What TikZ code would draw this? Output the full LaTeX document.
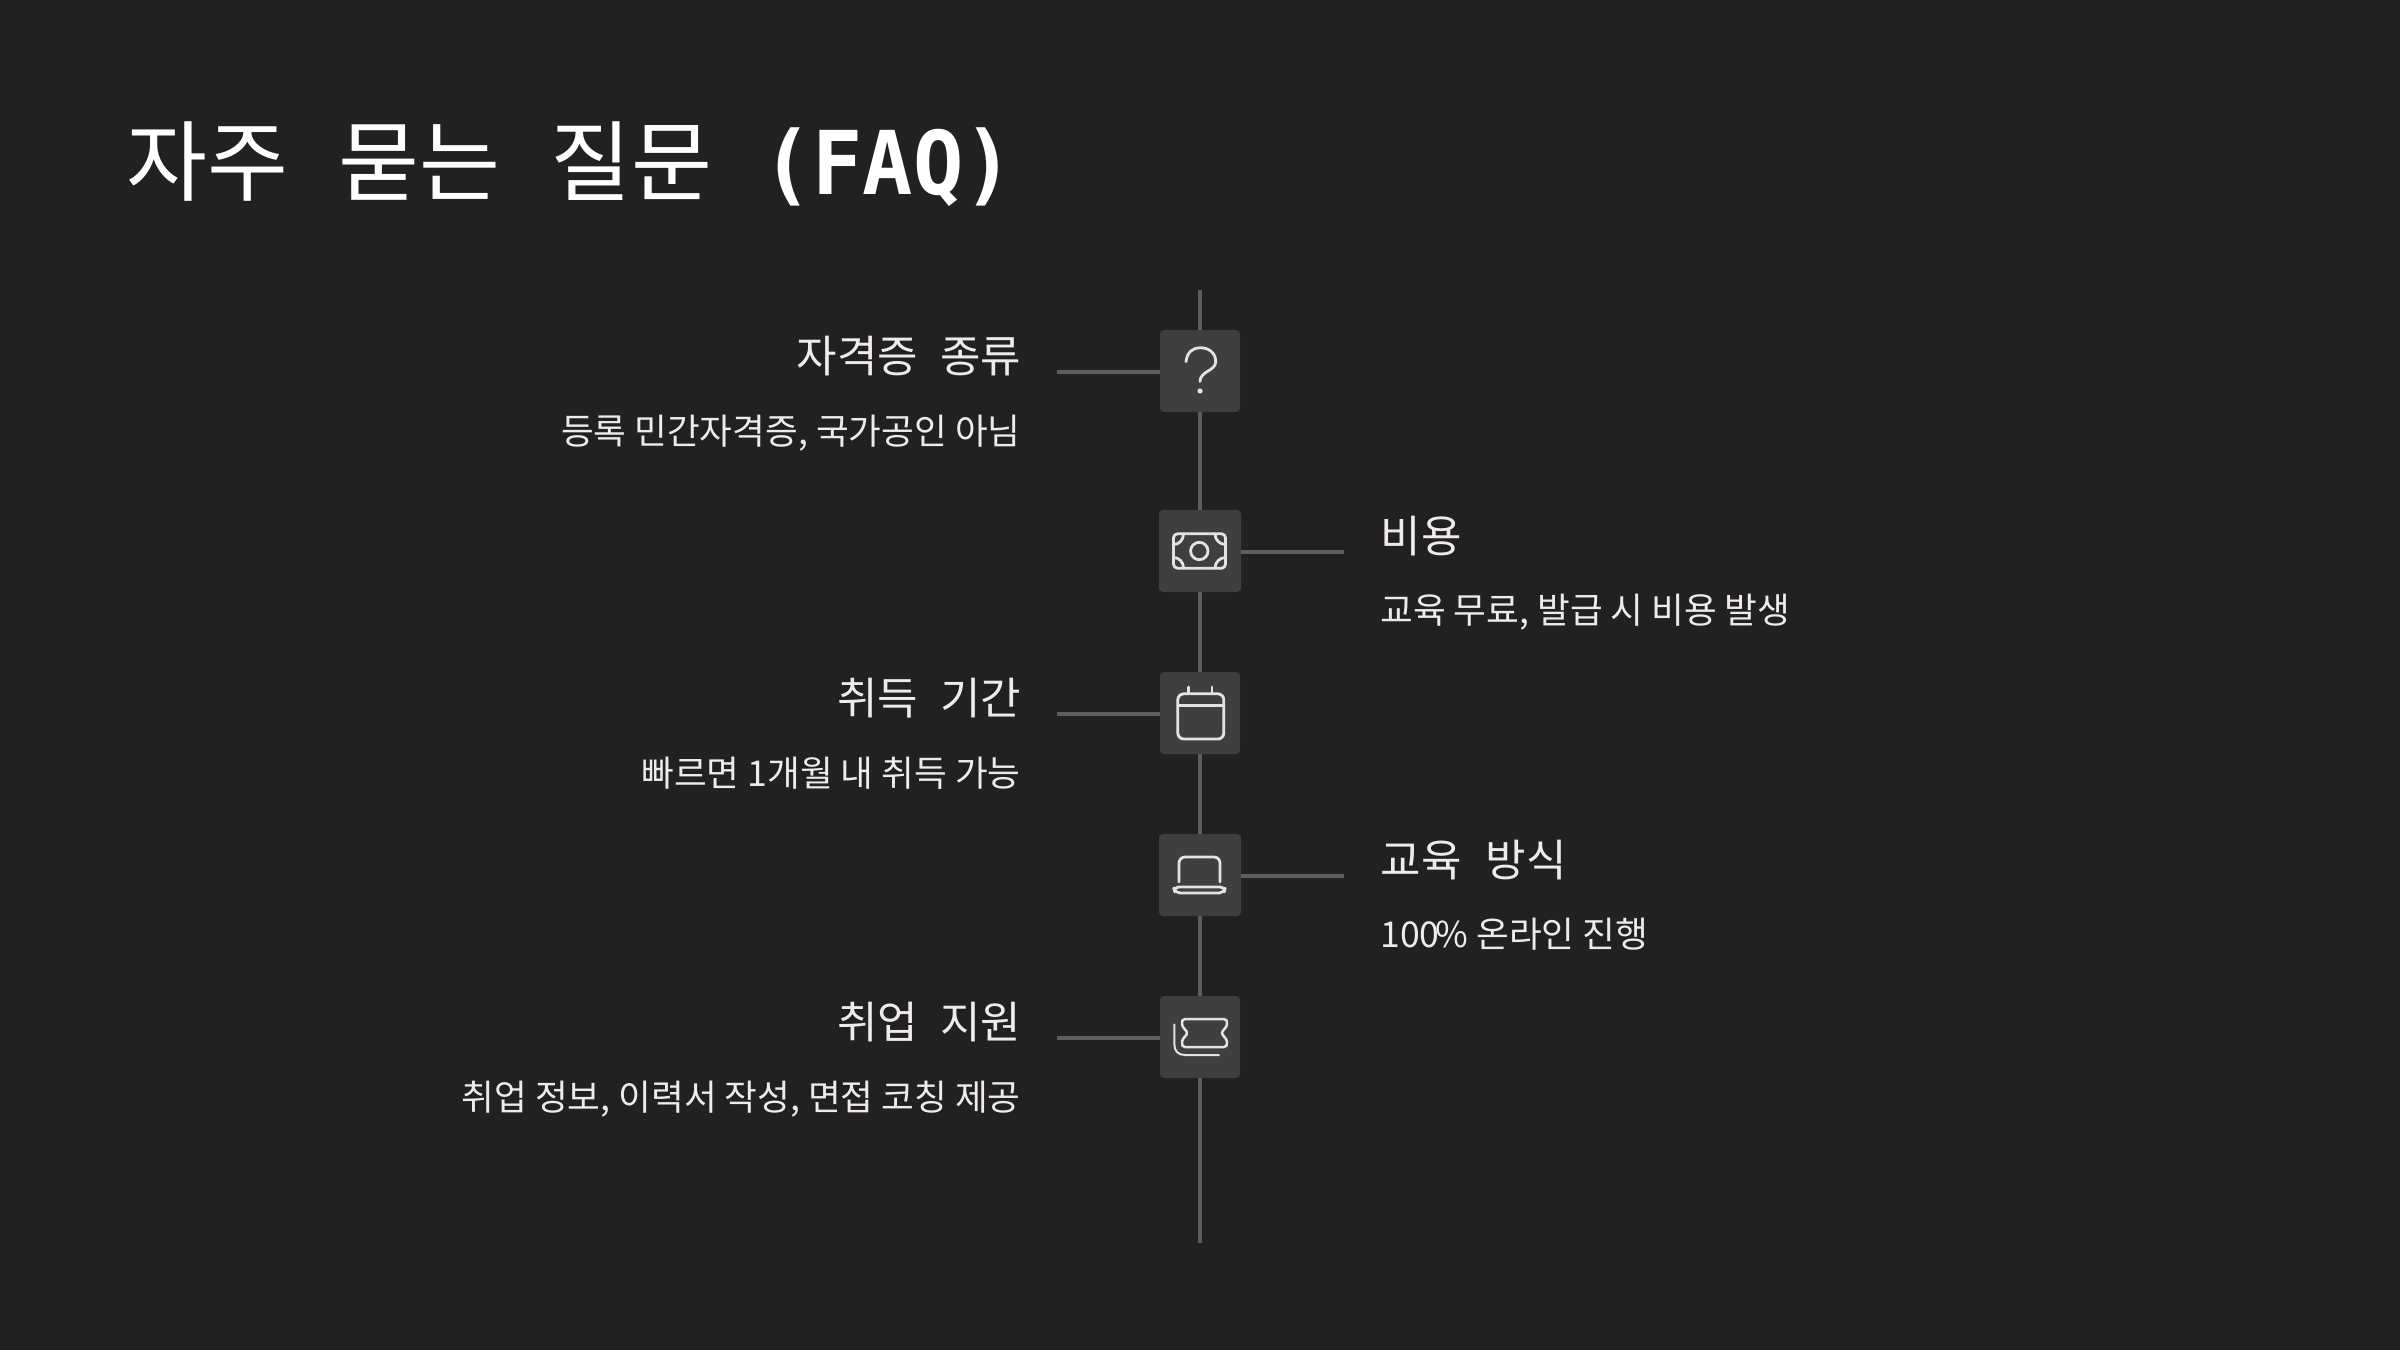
\documentclass[tikz,border=0pt]{standalone}
\usepackage{fontspec}
\setmainfont{Noto Sans CJK KR}
\newfontfamily\titlelatin[FakeStretch=0.95]{DejaVu Sans Mono}
\definecolor{bgc}{HTML}{212121}
\definecolor{boxc}{HTML}{3F3F3F}
\definecolor{linec}{HTML}{5E5E5E}
\definecolor{textc}{HTML}{EFEBEB}
\definecolor{iconc}{HTML}{E6E2E2}
\tikzset{
  boxn/.style={fill=boxc,rounded corners=2pt,minimum width=40pt,minimum height=41pt,inner sep=0pt,draw=none},
  boxw/.style={boxn,minimum width=41pt},
  tl/.style={draw=linec,line width=2pt},
  icon/.style={draw=iconc,line width=1.4pt,line cap=round,line join=round},
  headl/.style={anchor=base east,text=textc,font=\fontsize{22}{26}\selectfont,inner sep=0pt},
  subl/.style={anchor=base east,text=textc,font=\fontsize{17.8}{22}\selectfont,inner sep=0pt},
  headr/.style={anchor=base west,text=textc,font=\fontsize{22}{26}\selectfont,inner sep=0pt},
  subr/.style={anchor=base west,text=textc,font=\fontsize{17.8}{22}\selectfont,inner sep=0pt}
}
\begin{document}
\begin{tikzpicture}[x=0.5pt,y=-0.5pt]
\useasboundingbox (0,0) rectangle (2400,1350);
\fill[bgc] (0,0) rectangle (2400,1350);
\node[anchor=base west,text=white,inner sep=0pt,font=\fontsize{44}{52}\selectfont] (title) at (126,194) {자주\hspace{25pt}묻는\hspace{25pt}질문\hspace{25pt}{\titlelatin\bfseries (FAQ)}};
\coordinate (top) at (1200,290);
\coordinate (bot) at (1200,1243);
\draw[tl] (top) -- (bot);
\coordinate (c1) at (1057,371.5);
\coordinate (c2) at (1344,551.5);
\coordinate (c3) at (1057,713.5);
\coordinate (c4) at (1344,875.5);
\coordinate (c5) at (1057,1037.5);
\node[boxn] (b1) at (1200,371) {};
\node[boxw] (b2) at (1200,551) {};
\node[boxn] (b3) at (1200,713) {};
\node[boxw] (b4) at (1200,875) {};
\node[boxn] (b5) at (1200,1037) {};
\draw[tl] (c1) -- (c1 -| b1.west);
\draw[tl] (c2) -- (c2 -| b2.east);
\draw[tl] (c3) -- (c3 -| b3.west);
\draw[tl] (c4) -- (c4 -| b4.east);
\draw[tl] (c5) -- (c5 -| b5.west);
% question
\draw[icon] (1186,361.7) .. controls (1187,352) and (1193,347.7) .. (1200,347.7) .. controls (1209,347.7) and (1215.7,353) .. (1215.7,361.7) .. controls (1215.7,371) and (1200,371) .. (1200,381.5);
\fill[iconc] (1200,391) circle (2.6);
% money
\draw[icon,rounded corners=2pt] (1173.5,533.8) rectangle (1225.5,568.2);
\draw[icon] (1199.3,551) circle (8.7);
\draw[icon] (1173.5,544.5) .. controls (1179,544.5) and (1183.5,540) .. (1183.5,534);
\draw[icon] (1225.5,544.5) .. controls (1220,544.5) and (1215,540) .. (1215,534);
\draw[icon] (1173.5,557.5) .. controls (1179,557.5) and (1183.5,562) .. (1183.5,568);
\draw[icon] (1225.5,557.5) .. controls (1220,557.5) and (1215,562) .. (1215,568);
% calendar
\draw[icon,rounded corners=3pt] (1177.8,693.8) rectangle (1223.8,739);
\draw[icon] (1177.8,705.7) -- (1223.8,705.7);
\draw[icon] (1188.7,687) -- (1188.7,693.3);
\draw[icon] (1212,687) -- (1212,693.3);
% laptop
\draw[icon,rounded corners=3pt] (1179,882) -- (1179,857) -- (1220,857) -- (1220,882);
\draw[icon,rounded corners=2.5pt] (1173.5,887) -- (1225.5,887) -- (1224,893) -- (1175,893) -- cycle;
% ticket
\draw[icon,line width=1.25pt] (1185,1019) -- (1224,1019) .. controls (1227,1019) and (1227,1021) .. (1227,1024) .. controls (1227,1028) and (1222,1030) .. (1222,1033) .. controls (1222,1036) and (1227,1038) .. (1227,1042) .. controls (1227,1045) and (1227,1047) .. (1224,1047) -- (1185,1047) .. controls (1182,1047) and (1182,1045) .. (1182,1042) .. controls (1182,1038) and (1187,1036) .. (1187,1033) .. controls (1187,1030) and (1182,1028) .. (1182,1024) .. controls (1182,1021) and (1182,1019) .. (1185,1019) -- cycle;
\draw[icon,line width=1pt] (1174.3,1024.5) -- (1174.3,1044) .. controls (1174.3,1051) and (1178,1055) .. (1185,1055) -- (1219,1055);
% texts
\node[headl] (h1) at (1021.5,372) {자격증\hspace{11pt}종류};
\node[subl] (s1) at (1021,444.5) {등록 민간자격증, 국가공인 아님};
\node[headr] (h2) at (1380.5,552) {비용};
\node[subr] (s2) at (1380,623.5) {교육 무료, 발급 시 비용 발생};
\node[headl] (h3) at (1021.5,714) {취득\hspace{11pt}기간};
\node[subl] (s3) at (1021,786.5) {빠르면 1개월 내 취득 가능};
\node[headr] (h4) at (1380.5,876) {교육\hspace{12pt}방식};
\node[subr] (s4) at (1380,947.5) {100\hspace{-2pt}\% 온라인 진행};
\node[headl] (h5) at (1021.5,1038) {취업\hspace{11pt}지원};
\node[subl] (s5) at (1021,1110.5) {취업 정보, 이력서 작성, 면접 코칭 제공};
\end{tikzpicture}
\end{document}
